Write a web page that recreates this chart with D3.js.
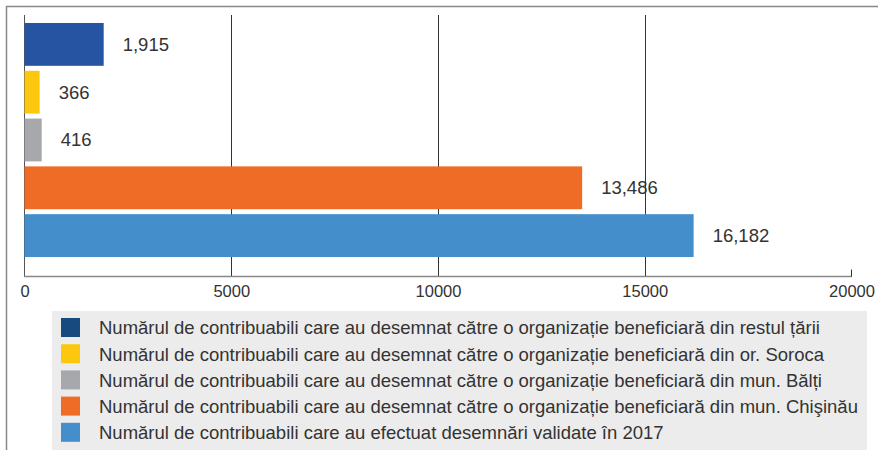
<!DOCTYPE html>
<html>
<head>
<meta charset="utf-8">
<script src="https://cdn.jsdelivr.net/npm/d3@7"></script>
<style>
  body { margin: 0; background: #fff; }
  svg { display: block; font-family: "Liberation Sans", Arial, sans-serif; }
</style>
</head>
<body>
<div id="chart"></div>
<script>
// data
const categories = ["restul tarii", "Soroca", "Balti", "Chisinau", "total"];
const values = [1915, 366, 416, 13486, 16182];
const barColors = ["#2753a3", "#fcc80f", "#a7a8ac", "#ee6c25", "#438ecb"];
const legendColors = ["#174a7e", "#fcc80f", "#a7a8ac", "#ee6c25", "#438ecb"];
const legendLabels = [
    "Numărul de contribuabili care au desemnat către o organizație beneficiară din restul țării",
    "Numărul de contribuabili care au desemnat către o organizație beneficiară din or. Soroca",
    "Numărul de contribuabili care au desemnat către o organizație beneficiară din mun. Bălți",
    "Numărul de contribuabili care au desemnat către o organizație beneficiară din mun. Chişinău",
    "Numărul de contribuabili care au efectuat desemnări validate în 2017"
];
const xTicks = [0, 5000, 10000, 15000, 20000];

const width = 878, height = 450;

const svg = d3.select('#chart')
    .append('svg')
    .attr('width', width)
    .attr('height', height);

// outer frame (only top and left visible)
svg.append('path')
    .attr('d', 'M6.5,450V6.5H878')
    .attr('fill', 'none')
    .attr('stroke', '#888')
    .attr('stroke-width', 1.5);

const x = d3.scaleLinear().domain([0, 20000]).range([24.5, 851.5]);
const y = d3.scaleBand().domain(categories).range([20.5, 259.5]).paddingInner(0.104).paddingOuter(0.052);
const axisY = 276.5;

// gridlines
svg.append('g')
    .selectAll('line')
    .data(xTicks.slice(1, -1))
    .join('line')
    .attr('x1', d => Math.round(x(d)) + 0.5)
    .attr('x2', d => Math.round(x(d)) + 0.5)
    .attr('y1', 15)
    .attr('y2', axisY)
    .attr('stroke', '#333')
    .attr('stroke-width', 1);

// left axis line
svg.append('line')
    .attr('x1', 24.5).attr('x2', 24.5)
    .attr('y1', 15).attr('y2', axisY)
    .attr('stroke', '#555');

// bars
svg.append('g')
    .selectAll('rect')
    .data(values)
    .join('rect')
    .attr('x', x(0))
    .attr('y', (d, i) => y(categories[i]))
    .attr('width', d => x(d) - x(0))
    .attr('height', y.bandwidth())
    .attr('fill', (d, i) => barColors[i]);

// value labels
svg.append('g')
    .selectAll('text')
    .data(values)
    .join('text')
    .attr('x', d => x(d) + 19)
    .attr('y', (d, i) => y(categories[i]) + y.bandwidth() / 2)
    .attr('dy', '0.35em')
    .attr('font-size', 18.5)
    .attr('fill', '#333')
    .text(d => d3.format(',')(d));

// x axis
const xAxis = d3.axisBottom(x)
    .tickValues(xTicks)
    .tickSize(0)
    .tickPadding(9)
    .tickFormat(d3.format('d'));

const gx = svg.append('g')
    .attr('transform', `translate(0,${axisY})`)
    .call(xAxis);
gx.select('.domain').remove();
gx.append('line')
    .attr('x1', 24).attr('x2', 852)
    .attr('stroke', '#888').attr('stroke-width', 1.5);
gx.append('line')
    .attr('x1', 851.5).attr('x2', 851.5).attr('y1', -7).attr('y2', 0)
    .attr('stroke', '#333');
gx.selectAll('.tick text')
    .attr('font-size', 16.5)
    .attr('font-family', '"Liberation Sans", Arial, sans-serif')
    .attr('fill', '#333');

// legend
const legend = svg.append('g');
legend.append('rect')
    .attr('x', 52).attr('y', 311)
    .attr('width', 815).attr('height', 139)
    .attr('fill', '#ececec');

const items = legend.selectAll('g.item')
    .data(legendLabels)
    .join('g')
    .attr('class', 'item')
    .attr('transform', (d, i) => `translate(61,${318 + i * 26.2})`);

items.append('rect')
    .attr('width', 19).attr('height', 19)
    .attr('fill', (d, i) => legendColors[i]);

items.append('text')
    .attr('x', 38)
    .attr('y', 10)
    .attr('dy', '0.35em')
    .attr('font-size', 18.5)
    .attr('fill', '#333')
    .text(d => d);
</script>
</body>
</html>
